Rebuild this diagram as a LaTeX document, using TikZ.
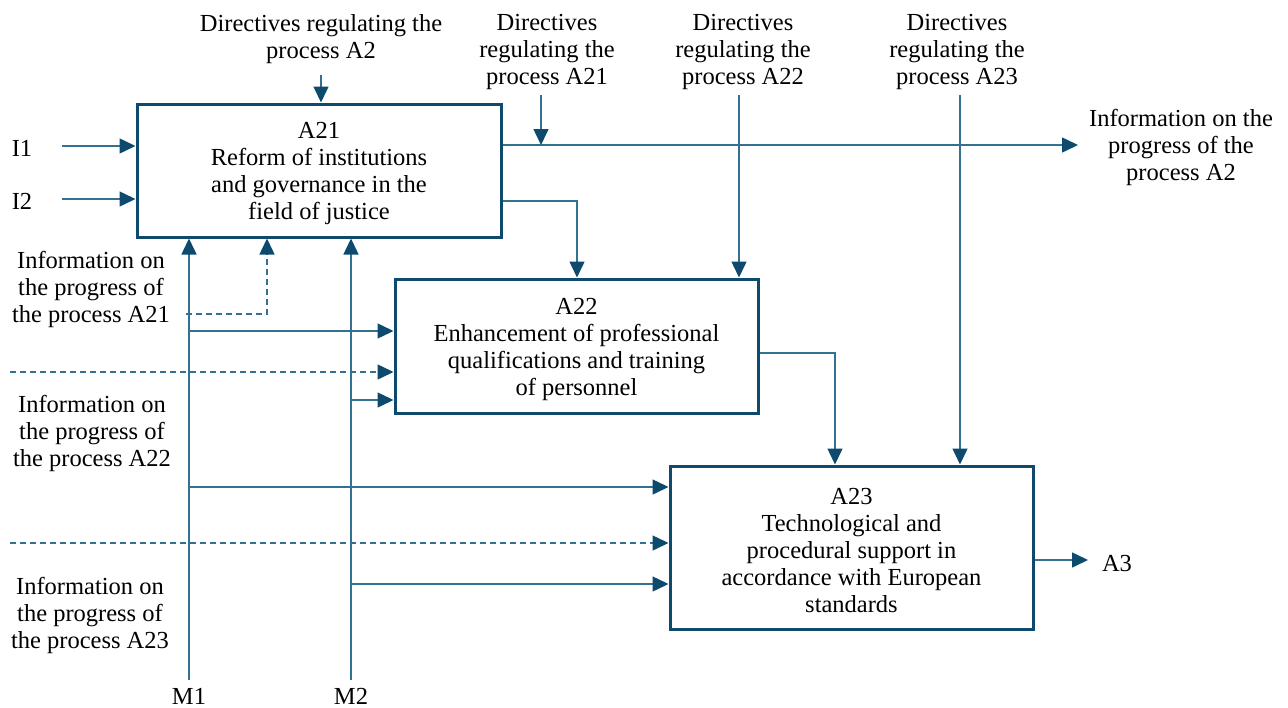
\documentclass[tikz,border=0pt]{standalone}
\usepackage{fontspec}
\setmainfont{Liberation Serif}
\usetikzlibrary{arrows.meta}
\definecolor{boxc}{RGB}{14,74,110}
\definecolor{linec}{RGB}{52,112,146}
\begin{document}
\begin{tikzpicture}[x=1pt,y=-1pt,
  proc/.style={draw=boxc, line width=3pt, inner sep=0pt, fill=white},
  lbl/.style={align=center, inner sep=0pt, font=\fontsize{24.5}{27}\selectfont},
  conn/.style={draw=linec, line width=1.5pt},
  arr/.style={conn, -{Triangle[length=16pt,width=15pt,color=boxc]}},
  fb/.style={arr, dash pattern=on 6pt off 4pt}]
\path[use as bounding box] (0,0) rectangle (1288,707);

% boxes
\node[proc, minimum width=364pt, minimum height=133pt] (a21) at (319,170.5) {};
\node[proc, minimum width=363pt, minimum height=134pt] (a22) at (576.5,346) {};
\node[proc, minimum width=363pt, minimum height=163pt] (a23) at (851.5,547.5) {};
\node[lbl] (a21t) at ([yshift=-3pt]a21.center)
  {A21\\Reform of institutions\\and governance in the\\field of justice};
\node[lbl] (a22t) at ([yshift=-3pt]a22.center)
  {A22\\Enhancement of professional\\qualifications and training\\of personnel};
\node[lbl] (a23t) at ([yshift=-3pt]a23.center)
  {A23\\Technological and\\procedural support in\\accordance with European\\standards};

% labels
\node[lbl] (d2) at (321,39) {Directives regulating the\\process A2};
\node[lbl] (d21) at (547,52) {Directives\\regulating the\\process A21};
\node[lbl] (d22) at (743,52) {Directives\\regulating the\\process A22};
\node[lbl] (d23) at (957,52) {Directives\\regulating the\\process A23};
\node[lbl] (out) at (1181,147) {Information on the\\progress of the\\process A2};
\node[lbl] (i1) at (22,148) {I1};
\node[lbl] (i2) at (22,201) {I2};
\node[lbl] (inf21) at (91,289) {Information on\\the progress of\\the process A21};
\node[lbl] (inf22) at (92,433) {Information on\\the progress of\\the process A22};
\node[lbl] (inf23) at (90,615) {Information on\\the progress of\\the process A23};
\node[lbl] (m1) at (189,696) {M1};
\node[lbl] (m2) at (351,696) {M2};
\node[lbl] (a3) at (1117,564) {A3};

% coordinates
\coordinate (d2s) at (321,75);
\coordinate (d21s) at (541,95);
\coordinate (d22s) at (739,95);
\coordinate (d23s) at (960,95);
\coordinate (i1s) at (62,146);
\coordinate (i2s) at (62,199);
\coordinate (m1s) at (189,680);
\coordinate (m2s) at (351,680);
\coordinate (fbs) at (186,314);
\coordinate (fbk) at (267,314);
\coordinate (da) at (10,372);
\coordinate (db) at (10,543);
\coordinate (o1) at (1078,145);
\coordinate (o21) at (577,201);
\coordinate (o22) at (835,353);
\coordinate (o3) at (1088,560);

% controls
\draw[arr] (d2s) -- (d2s |- a21.north);
\draw[arr] (a21.east |- o1) -- (o1);
\draw[arr] (d21s) -- (d21s |- o1);
\draw[arr] (d22s) -- (d22s |- a22.north);
\draw[arr] (d23s) -- (d23s |- a23.north);

% inputs
\draw[arr] (i1s) -- (i1s -| a21.west);
\draw[arr] (i2s) -- (i2s -| a21.west);

% box to box
\draw[arr] (a21.east |- o21) -- (o21) -- (o21 |- a22.north);
\draw[arr] (a22.east |- o22) -- (o22) -- (o22 |- a23.north);
\draw[arr] (a23.east |- o3) -- (o3);

% mechanisms
\draw[arr] (m1s) -- (m1s |- a21.south);
\draw[arr] (m2s) -- (m2s |- a21.south);
\draw[arr] (m1s |- 0,331) -- (a22.west |- 0,331);
\draw[arr] (m2s |- 0,400) -- (a22.west |- 0,400);
\draw[arr] (m1s |- 0,487) -- (a23.west |- 0,487);
\draw[arr] (m2s |- 0,584) -- (a23.west |- 0,584);

% feedback
\draw[fb] (fbs) -- (fbk) -- (fbk |- a21.south);
\draw[fb] (da) -- (da -| a22.west);
\draw[fb] (db) -- (db -| a23.west);
\end{tikzpicture}
\end{document}
